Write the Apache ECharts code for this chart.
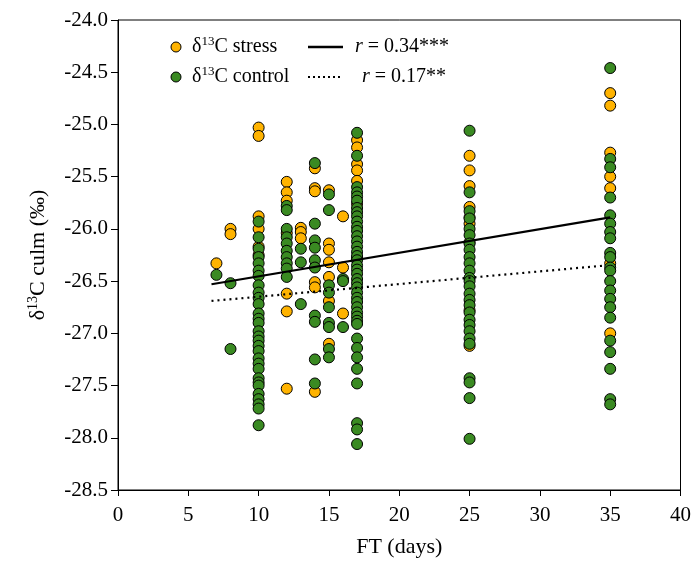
<!DOCTYPE html>
<html>
<head>
<meta charset="utf-8">
<script src="https://cdn.jsdelivr.net/npm/echarts@6/dist/echarts.min.js"></script>
<style>html,body{margin:0;padding:0;background:#fff}#c{width:694px;height:563px}</style>
</head>
<body>
<div id="c"></div>
<script>
// ---- data ----
const stressPoints = [
  [7,-26.33],
  [8,-26.0],[8,-26.05],
  [10,-25.03],[10,-25.11],[10,-25.88],[10,-26.0],[10,-26.17],[10,-26.25],
  [12,-25.55],[12,-25.65],[12,-25.73],[12,-26.04],[12,-26.62],[12,-26.79],[12,-27.53],
  [13,-25.99],[13,-26.03],[13,-26.09],
  [14,-25.42],[14,-25.61],[14,-25.64],[14,-26.51],[14,-26.56],[14,-27.56],
  [15,-25.63],[15,-26.14],[15,-26.2],[15,-26.32],[15,-26.46],[15,-26.69],[15,-27.1],
  [16,-25.88],[16,-26.37],[16,-26.81],
  [17,-25.15],[17,-25.22],[17,-25.38],[17,-25.44],[17,-25.54],[17,-25.76],[17,-26.28],
  [25,-25.3],[25,-25.44],[25,-25.59],[25,-25.79],[25,-25.89],[25,-25.95],[25,-26.13],[25,-26.78],[25,-27.12],
  [35,-24.7],[35,-24.82],[35,-25.27],[35,-25.5],[35,-25.61],[35,-26.33],[35,-27.0]
];
const controlPoints = [
  [7,-26.44],
  [8,-26.52],[8,-27.15],
  [10,-25.93],[10,-26.08],[10,-26.19],[10,-26.27],[10,-26.33],[10,-26.40],[10,-26.45],[10,-26.54],
  [10,-26.61],[10,-26.66],[10,-26.72],[10,-26.81],[10,-26.86],[10,-26.90],[10,-26.98],[10,-27.03],
  [10,-27.07],[10,-27.12],[10,-27.17],[10,-27.24],[10,-27.29],[10,-27.34],[10,-27.43],[10,-27.47],
  [10,-27.50],[10,-27.58],[10,-27.63],[10,-27.68],[10,-27.72],[10,-27.88],
  [12,-25.78],[12,-25.82],[12,-26.0],[12,-26.08],[12,-26.14],[12,-26.21],[12,-26.27],[12,-26.33],[12,-26.38],[12,-26.46],
  [13,-26.19],[13,-26.32],[13,-26.72],
  [14,-25.37],[14,-25.95],[14,-26.11],[14,-26.18],[14,-26.3],[14,-26.37],[14,-26.83],[14,-26.89],[14,-27.25],[14,-27.48],
  [15,-25.67],[15,-25.82],[15,-26.54],[15,-26.61],[15,-26.75],[15,-26.9],[15,-26.94],[15,-27.15],[15,-27.23],
  [16,-26.48],[16,-26.5],[16,-26.94],
  [17,-25.08],[17,-25.3],[17,-25.6],[17,-25.65],[17,-25.69],[17,-25.73],[17,-25.8],[17,-25.84],[17,-25.88],
  [17,-25.93],[17,-25.98],[17,-26.02],[17,-26.07],[17,-26.12],[17,-26.17],[17,-26.22],[17,-26.26],[17,-26.3],
  [17,-26.35],[17,-26.39],[17,-26.43],[17,-26.48],[17,-26.52],[17,-26.56],[17,-26.61],[17,-26.66],[17,-26.7],
  [17,-26.75],[17,-26.8],[17,-26.84],[17,-26.88],[17,-26.91],
  [17,-27.05],[17,-27.14],[17,-27.23],[17,-27.34],[17,-27.48],[17,-27.86],[17,-27.92],[17,-28.06],
  [25,-25.06],[25,-25.65],[25,-25.83],[25,-25.9],[25,-26.0],[25,-26.06],[25,-26.14],[25,-26.2],[25,-26.27],
  [25,-26.33],[25,-26.4],[25,-26.47],[25,-26.5],[25,-26.55],[25,-26.62],[25,-26.68],[25,-26.73],[25,-26.8],
  [25,-26.87],[25,-26.92],[25,-26.98],[25,-27.05],[25,-27.1],
  [25,-27.43],[25,-27.47],[25,-27.62],[25,-28.01],
  [35,-24.46],[35,-25.33],[35,-25.41],[35,-25.7],[35,-25.87],[35,-25.95],[35,-26.03],[35,-26.09],[35,-26.23],
  [35,-26.27],[35,-26.37],[35,-26.4],[35,-26.5],[35,-26.59],[35,-26.67],[35,-26.75],[35,-26.85],[35,-27.07],
  [35,-27.18],[35,-27.34],[35,-27.63],[35,-27.68]
];
const stressFit = [[6.65,-26.53],[35,-25.89]];
const controlFit = [[6.65,-26.69],[34.7,-26.35]];
const xTicks = [0,5,10,15,20,25,30,35,40];
const yTicks = [-28.5,-28.0,-27.5,-27.0,-26.5,-26.0,-25.5,-25.0,-24.5,-24.0];
const legendStress = ['δ', '13', 'C stress', 'r', ' = 0.34***'];
const legendControl = ['δ', '13', 'C control', 'r', ' = 0.17**'];

const FONT = 'Liberation Serif, Times New Roman, serif';
const ORANGE = '#FFB300';
const GREEN = '#3A8A22';

const chart = echarts.init(document.getElementById('c'));
const richLegend = {
  n: {fontFamily: FONT, fontSize: 20, color: '#000'},
  s: {fontFamily: FONT, fontSize: 13, color: '#000', padding: [0,0,10,0]},
  i: {fontFamily: FONT, fontSize: 20, color: '#000', fontStyle: 'italic'}
};
const richAxis = {
  n: {fontFamily: FONT, fontSize: 22, color: '#000'},
  s: {fontFamily: FONT, fontSize: 14, color: '#000', padding: [0,0,10,0]}
};
function labelText(arr){ return '{n|' + arr[0] + '}{s|' + arr[1] + '}{n|' + arr[2] + '}'; }
function rText(arr){ return '{i|' + arr[3] + '}{n|' + arr[4] + '}'; }

chart.setOption({
  animation: false,
  backgroundColor: '#fff',
  grid: {left: 118, right: 11, top: 20, bottom: 72, show: true, borderColor: '#000', borderWidth: 1, backgroundColor: 'transparent'},
  xAxis: {
    type: 'value', min: xTicks[0], max: xTicks[xTicks.length-1], interval: 5,
    name: 'FT (days)', nameLocation: 'middle', nameGap: 46,
    nameTextStyle: {fontFamily: FONT, fontSize: 22, color: '#000'},
    axisLine: {show: true, onZero: false, lineStyle: {color: '#000', width: 1}},
    axisTick: {show: true, length: 6, lineStyle: {color: '#000'}},
    axisLabel: {fontFamily: FONT, fontSize: 21, color: '#000', margin: 15},
    splitLine: {show: false}
  },
  yAxis: {
    type: 'value', min: yTicks[0], max: yTicks[yTicks.length-1], interval: 0.5,
    name: '{n|δ}{s|13}{n|C culm (‰)}', nameLocation: 'middle', nameGap: 68, nameRotate: 90,
    nameTextStyle: {rich: richAxis},
    axisLine: {show: true, onZero: false, lineStyle: {color: '#000', width: 1}},
    axisTick: {show: true, length: 7, lineStyle: {color: '#000'}},
    axisLabel: {fontFamily: FONT, fontSize: 21, color: '#000', margin: 10, formatter: v => v.toFixed(1)},
    splitLine: {show: false}
  },
  series: [
    {type: 'scatter', name: 'stress', data: stressPoints, symbolSize: 11,
     itemStyle: {color: ORANGE, borderColor: '#000', borderWidth: 1, opacity: 1}, z: 2},
    {type: 'scatter', name: 'control', data: controlPoints, symbolSize: 11,
     itemStyle: {color: GREEN, borderColor: '#000', borderWidth: 1, opacity: 1}, z: 3},
    {type: 'line', data: stressFit, symbol: 'none', lineStyle: {color: '#000', width: 2.2}, z: 4},
    {type: 'line', data: controlFit, symbol: 'none', lineStyle: {color: '#000', width: 2.2, type: [2,4]}, z: 4}
  ],
  graphic: [
    {type: 'circle', shape: {cx: 176, cy: 47, r: 5}, style: {fill: ORANGE, stroke: '#000', lineWidth: 1}},
    {type: 'text', x: 192, y: 47, style: {text: labelText(legendStress), rich: richLegend, verticalAlign: 'middle'}},
    {type: 'line', shape: {x1: 308, y1: 47, x2: 343, y2: 47}, style: {stroke: '#000', lineWidth: 2.5}},
    {type: 'text', x: 355, y: 47, style: {text: rText(legendStress), rich: richLegend, verticalAlign: 'middle'}},
    {type: 'circle', shape: {cx: 176, cy: 77, r: 5}, style: {fill: GREEN, stroke: '#000', lineWidth: 1}},
    {type: 'text', x: 192, y: 77, style: {text: labelText(legendControl), rich: richLegend, verticalAlign: 'middle'}},
    {type: 'line', shape: {x1: 308, y1: 77, x2: 340, y2: 77}, style: {stroke: '#000', lineWidth: 2, lineDash: [2,3]}},
    {type: 'text', x: 362, y: 77, style: {text: rText(legendControl), rich: richLegend, verticalAlign: 'middle'}}
  ]
});
</script>
</body>
</html>
